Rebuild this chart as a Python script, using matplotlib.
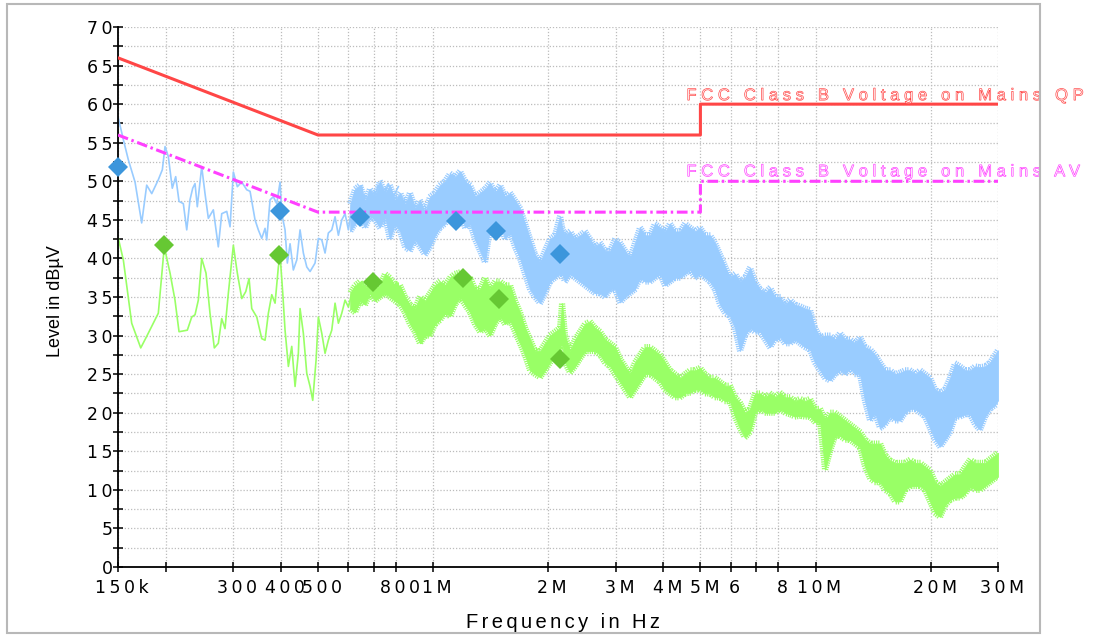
import matplotlib
matplotlib.use("Agg")
import matplotlib.pyplot as plt
from matplotlib import patheffects
from matplotlib.patches import Rectangle
from matplotlib.ticker import FixedLocator, FixedFormatter, NullLocator
import matplotlib.transforms as mtransforms

plt.rcParams["font.family"] = ["Liberation Sans", "DejaVu Sans"]

# ---- data (frequencies in MHz, levels in dBuV) -----------------------------
# FCC class B limits
qp_lim_f = [0.15, 0.5, 5.0, 5.0, 30.0]
qp_lim_db = [66, 56, 56, 60, 60]
av_lim_f = [0.15, 0.5, 5.0, 5.0, 30.0]
av_lim_db = [56, 46, 46, 50, 50]

# peak trace, low-frequency part (thin line)
pk_f = [0.1503, 0.1549, 0.1596, 0.1662, 0.1730, 0.1783, 0.1838, 0.1912, 0.1959,
        0.1991, 0.2031, 0.2080, 0.2123, 0.2166, 0.2223, 0.2269, 0.2314, 0.2352,
        0.2385, 0.2418, 0.2483, 0.2533, 0.2584, 0.2663, 0.2744, 0.2801, 0.2887,
        0.2945, 0.3004, 0.3077, 0.3160, 0.3256, 0.3322, 0.3423, 0.3492, 0.3564,
        0.3636, 0.3673, 0.3747, 0.3822, 0.3901, 0.3980, 0.4020, 0.4101, 0.4158,
        0.4227, 0.4311, 0.4401, 0.4489, 0.4579, 0.4674, 0.4768, 0.4913, 0.5012,
        0.5116, 0.5218, 0.5323, 0.5433, 0.5542, 0.5654, 0.5771, 0.5886, 0.6005,
        0.6129, 0.6252, 0.6378, 0.6510, 0.6640, 0.6841, 0.6978, 0.7191, 0.7411,
        0.7637, 0.7871, 0.8111]
pk_db = [58.2, 55.4, 52.8, 49.9, 44.6, 49.5, 48.4, 50.2, 51.5,
         54.5, 53.2, 49.1, 50.6, 47.4, 47.1, 43.7, 47.6, 49.1,
         49.7, 46.7, 51.9, 48.4, 45.2, 46.3, 41.5, 45.8, 46.1,
         44.1, 51.2, 49.3, 49.9, 48.9, 48.7, 45.0, 43.7, 42.6,
         43.9, 42.4, 47.6, 48.0, 47.1, 49.9, 45.8, 43.7, 39.4,
         41.9, 38.5, 39.8, 43.7, 40.7, 38.9, 38.3, 39.4, 42.6,
         42.4, 40.7, 43.3, 43.7, 45.4, 43.0, 45.0, 45.8, 43.7,
         46.7, 48.7, 46.7, 49.3, 45.8, 48.9, 47.6, 49.5, 48.0,
         49.7, 48.0, 49.3]

# average trace, low-frequency part (thin line)
avg_f = [0.1503, 0.1549, 0.1629, 0.1720, 0.1783, 0.1912, 0.1982, 0.2052, 0.2114,
         0.2166, 0.2277, 0.2338, 0.2385, 0.2433, 0.2483, 0.2548, 0.2610, 0.2679,
         0.2744, 0.2801, 0.2857, 0.2915, 0.3004, 0.3077, 0.3160, 0.3237, 0.3302,
         0.3356, 0.3459, 0.3564, 0.3636, 0.3709, 0.3786, 0.3862, 0.3939, 0.3980,
         0.4045, 0.4101, 0.4184, 0.4270, 0.4356, 0.4443, 0.4489, 0.4579, 0.4674,
         0.4768, 0.4845, 0.4943, 0.5012, 0.5116, 0.5218, 0.5323, 0.5433, 0.5542,
         0.5654, 0.5771, 0.5886, 0.6005, 0.6129, 0.6252, 0.6378, 0.6510, 0.6706,
         0.6911, 0.7122, 0.7340, 0.7564, 0.7795, 0.8033, 0.8279, 0.8614, 0.8878,
         0.9150, 0.9339, 0.9625]
avg_db = [42.6, 39.8, 31.6, 28.4, 29.9, 32.9, 41.5, 38.1, 34.6,
          30.5, 30.7, 32.4, 32.7, 34.6, 40.0, 38.1, 32.9, 28.4,
          29.0, 32.2, 30.9, 35.5, 41.7, 38.1, 34.8, 35.7, 37.4,
          33.5, 32.4, 29.6, 29.4, 32.9, 35.3, 34.2, 38.9, 40.4,
          35.5, 30.7, 26.0, 28.6, 23.4, 27.7, 33.5, 30.3, 25.1,
          23.4, 21.6, 26.8, 32.4, 30.3, 27.7, 29.4, 30.7, 34.2,
          31.6, 32.9, 34.6, 33.7, 35.5, 36.3, 35.0, 37.0, 35.9,
          37.2, 35.5, 36.3, 37.6, 35.5, 37.0, 34.2, 33.7, 31.2,
          32.9, 29.0, 32.0]

# dense sweep above ~600 kHz: envelope (max / min) of each trace
band_f = [0.607, 0.6252, 0.644, 0.664, 0.684, 0.7049, 0.726, 0.7487, 0.771, 0.7951,
          0.820, 0.8445, 0.870, 0.8968, 0.924, 0.9524, 0.982, 1.0115, 1.043, 1.0743,
          1.108, 1.1409, 1.176, 1.2117, 1.250, 1.2869, 1.327, 1.367, 1.409, 1.452,
          1.497, 1.5421, 1.590, 1.6377, 1.688, 1.7394, 1.793, 1.8473, 1.905, 1.9619,
          2.022, 2.0837, 2.148, 2.174, 2.213, 2.281, 2.3502, 2.423, 2.496, 2.573,
          2.6508, 2.733, 2.8153, 2.903, 2.9901, 3.083, 3.1756, 3.274, 3.3726, 3.477,
          3.5818, 3.693, 3.804, 3.922, 4.040, 4.165, 4.2906, 4.424, 4.5568, 4.698,
          4.8395, 4.990, 5.1397, 5.299, 5.4585, 5.628, 5.7972, 5.977, 6.157, 6.348,
          6.539, 6.742, 6.9446, 7.160, 7.3755, 7.604, 7.833, 8.077, 8.319, 8.578,
          8.835, 9.110, 9.3833, 9.675, 9.9654, 10.28, 10.59, 10.91, 11.248, 11.59,
          11.946, 12.31, 12.687, 13.07, 13.474, 13.89, 14.31, 14.75, 15.199, 15.66,
          16.142, 16.63, 17.143, 17.67, 18.207, 18.77, 19.336, 19.93, 20.536, 21.17,
          21.81, 22.48, 23.166, 23.88, 24.605, 25.36, 26.129, 26.93, 27.75, 28.60,
          29.473, 30.0]
pk_hi = [47.0, 49.0, 49.5, 47.5, 49.0, 48.0, 50.0, 48.5, 49.5, 47.5,
         48.5, 47.0, 48.5, 46.5, 47.5, 46.0, 48.0, 48.5, 49.5, 50.0,
         51.0, 50.5, 51.3, 50.0, 49.5, 48.0, 48.5, 49.0, 49.8, 48.5,
         49.5, 48.0, 48.5, 47.5, 46.5, 44.5, 42.5, 40.5, 39.5, 41.0,
         42.5, 43.0, 45.5, 44.0, 43.0, 43.5, 42.5, 43.0, 43.5, 42.5,
         41.5, 42.0, 41.0, 41.0, 42.5, 42.0, 41.0, 40.0, 42.0, 44.0,
         43.0, 43.0, 44.5, 44.0, 43.5, 44.5, 43.5, 43.5, 44.5, 44.0,
         43.5, 44.0, 43.0, 43.0, 42.0, 40.5, 39.0, 37.5, 38.0, 37.0,
         37.5, 38.8, 37.0, 36.0, 35.5, 36.2, 35.0, 35.0, 34.0, 34.6,
         34.0, 33.8, 33.5, 33.3, 31.0, 29.8, 30.0, 30.0, 29.5, 30.3,
         29.5, 29.5, 29.0, 29.8, 28.5, 28.2, 27.5, 26.5, 25.5, 25.5,
         25.0, 25.2, 25.5, 25.5, 25.0, 25.5, 25.0, 24.5, 23.0, 22.6,
         23.0, 24.5, 26.4, 26.0, 25.5, 25.5, 26.0, 25.9, 26.0, 26.5,
         27.5, 28.1]
pk_lo = [43.5, 44.5, 45.5, 44.0, 45.5, 45.0, 44.0, 45.5, 42.5, 44.5,
         43.5, 41.5, 41.0, 42.5, 41.5, 40.5, 41.5, 43.0, 44.0, 44.5,
         45.5, 45.0, 46.0, 44.0, 44.5, 42.5, 41.0, 39.5, 44.0, 43.0,
         44.5, 42.5, 43.5, 41.5, 40.0, 38.0, 36.0, 35.0, 34.2, 35.5,
         37.0, 37.5, 38.0, 38.0, 37.0, 38.0, 37.5, 37.0, 36.5, 36.0,
         35.5, 35.5, 35.0, 36.0, 36.0, 34.3, 35.0, 35.5, 36.0, 37.5,
         37.0, 37.0, 37.5, 38.0, 36.5, 37.0, 37.5, 37.5, 38.0, 38.5,
         37.5, 38.0, 37.5, 37.0, 36.0, 34.0, 33.0, 32.5, 31.0, 28.0,
         30.0, 31.0, 30.5, 30.5, 29.5, 28.5, 29.5, 29.8, 29.0, 29.0,
         29.5, 29.0, 28.5, 28.2, 26.5, 25.5, 24.5, 24.2, 25.0, 25.5,
         25.0, 25.8, 25.0, 25.0, 21.5, 19.0, 20.0, 18.0, 18.5, 19.5,
         19.0, 19.0, 20.0, 20.5, 20.5, 20.0, 19.5, 18.0, 16.5, 15.6,
         16.5, 17.5, 19.5, 19.5, 19.8, 19.8, 18.5, 17.8, 19.5, 20.5,
         21.0, 21.6]
avg_hi = [35.5, 36.5, 37.0, 36.0, 37.2, 36.0, 36.5, 38.0, 37.5, 36.5,
          36.5, 35.0, 34.0, 33.5, 35.0, 34.5, 35.5, 36.5, 37.0, 36.5,
          37.5, 38.0, 38.2, 37.0, 37.5, 36.0, 36.0, 37.5, 36.0, 37.0,
          37.0, 36.5, 36.5, 34.5, 33.0, 31.0, 29.5, 28.0, 28.0, 29.0,
          30.0, 30.5, 31.0, 34.2, 30.0, 28.0, 29.5, 30.5, 31.5, 31.8,
          31.0, 30.5, 29.5, 29.0, 28.5, 27.0, 26.0, 25.0, 26.5, 27.5,
          28.5, 28.5, 28.0, 27.5, 26.5, 25.5, 25.0, 24.5, 25.0, 25.5,
          25.5, 25.8, 25.0, 24.5, 24.5, 24.0, 23.5, 23.5, 22.0, 21.3,
          20.0, 20.5, 22.5, 22.5, 22.0, 22.5, 22.0, 22.6, 22.0, 22.0,
          21.5, 21.8, 21.5, 21.8, 20.5, 20.5, 19.0, 20.0, 20.0, 19.5,
          19.0, 18.5, 18.0, 17.5, 16.5, 16.0, 16.0, 16.0, 14.5, 13.8,
          13.5, 13.5, 13.5, 13.9, 13.5, 13.5, 13.0, 12.5, 11.0, 10.5,
          11.0, 11.5, 12.0, 12.0, 13.0, 13.9, 13.5, 13.5, 13.5, 14.0,
          14.5, 14.8]
avg_lo = [33.5, 33.0, 34.5, 34.0, 35.5, 34.5, 35.0, 35.5, 35.0, 34.5,
          34.0, 33.0, 31.5, 30.5, 29.0, 30.0, 30.0, 31.5, 32.0, 33.0,
          32.5, 34.0, 35.0, 34.0, 33.0, 31.5, 30.5, 31.0, 30.0, 31.5,
          32.5, 31.5, 32.0, 30.5, 29.0, 27.5, 25.5, 25.0, 24.6, 25.5,
          26.5, 27.5, 28.5, 29.0, 26.5, 25.2, 26.0, 27.0, 28.0, 28.0,
          28.0, 27.5, 26.5, 26.0, 25.0, 24.0, 23.0, 22.0, 23.0, 24.0,
          25.0, 25.0, 24.5, 24.0, 23.0, 22.5, 22.0, 22.0, 22.5, 22.6,
          23.0, 23.0, 22.5, 22.5, 22.0, 22.0, 21.5, 21.5, 19.5, 18.0,
          16.8, 17.5, 20.0, 20.5, 20.0, 20.0, 20.0, 20.5, 20.0, 19.8,
          19.5, 19.6, 19.5, 19.5, 18.8, 18.7, 12.6, 15.0, 17.0, 17.0,
          16.5, 16.5, 16.0, 15.5, 13.0, 11.5, 11.0, 11.0, 10.0, 9.6,
          8.5, 8.5, 10.0, 10.5, 10.5, 10.5, 10.0, 8.5, 7.0, 6.5,
          8.0, 8.7, 9.0, 9.0, 9.5, 10.5, 10.0, 10.0, 10.5, 11.0,
          11.5, 11.7]

# final measurements
qp_f = [0.150, 0.398, 0.644, 1.148, 1.460, 2.150]
qp_db = [51.8, 46.2, 45.4, 44.9, 43.6, 40.6]
av_f = [0.198, 0.396, 0.698, 1.195, 1.487, 2.150]
av_db = [41.7, 40.4, 36.9, 37.5, 34.7, 27.0]

x_ticks = [150e3, 200e3, 300e3, 400e3, 500e3, 600e3, 700e3, 800e3, 1e6,
           2e6, 3e6, 4e6, 5e6, 6e6, 7e6, 8e6, 10e6, 20e6, 30e6]
x_labels = ["150k", "", "300", "400", "500", "", "", "800", "1M",
            "2M", "3M", "4M", "5M", "6", "", "8", "10M", "20M", "30M"]
y_ticks = [i * 2.5 for i in range(29)]
y_labels = [str(int(v)) if v % 5 == 0 else "" for v in y_ticks]

# ---- styling ---------------------------------------------------------------
C_PK = "#99ccff"
C_AVG = "#99ff66"
C_QPM = "#3c96dc"
C_AVM = "#66c833"
C_QPL = "#ff4646"
C_AVL = "#ff40ff"


def spaced(s, sep="\u2009"):
    return sep.join(s)


def hz(values):
    return [v * 1e6 for v in values]


def fuzzy(up):
    # short perpendicular strokes along an envelope edge -> noisy look
    return [patheffects.TickedStroke(spacing=1.6, angle=90 if up else -90,
                                     length=1.1, linewidth=0.9)]


fig = plt.figure(figsize=(11.01, 6.37), dpi=100)
ax = fig.add_axes([118 / 1101, 1 - 567 / 637, 880 / 1101, 540 / 637])

# traces
ax.fill_between(hz(band_f), pk_lo, pk_hi, color=C_PK, lw=0.6, zorder=2)
ax.plot(hz(band_f), pk_hi, color=C_PK, lw=0.8, zorder=2, path_effects=fuzzy(True))
ax.plot(hz(band_f), pk_lo, color=C_PK, lw=0.8, zorder=2, path_effects=fuzzy(False))
ax.plot(hz(pk_f), pk_db, color=C_PK, lw=1.2, zorder=2)

ax.fill_between(hz(band_f), avg_lo, avg_hi, color=C_AVG, lw=0.6, zorder=2.1)
ax.plot(hz(band_f), avg_hi, color=C_AVG, lw=0.8, zorder=2.1, path_effects=fuzzy(True))
ax.plot(hz(band_f), avg_lo, color=C_AVG, lw=0.8, zorder=2.1, path_effects=fuzzy(False))
ax.plot(hz(avg_f), avg_db, color=C_AVG, lw=1.2, zorder=2.1)

# limit lines
ax.plot(hz(qp_lim_f), qp_lim_db, color=C_QPL, lw=2.2, zorder=3)
ax.plot(hz(av_lim_f), av_lim_db, color=C_AVL, lw=2.2, zorder=3,
        linestyle=(0, (3.5, 1.2, 0.8, 1.2)))

# final measurement markers
ax.plot(hz(qp_f), qp_db, "D", color=C_QPM, ms=10.5, mew=0, zorder=4, clip_on=False)
ax.plot(hz(av_f), av_db, "D", color=C_AVM, ms=10.5, mew=0, zorder=4, clip_on=False)

# limit labels (thin outlined text)
outline = lambda c: [patheffects.PathPatchEffect(edgecolor=c, facecolor="white", linewidth=0.5)]
ax.annotate(spaced("FCC Class B Voltage on Mains QP", " "), xy=(5e6, 60),
            xytext=(-14, 4), textcoords="offset pixels", fontsize=12,
            color=C_QPL, va="baseline", ha="left", zorder=5,
            path_effects=outline(C_QPL))
ax.annotate(spaced("FCC Class B Voltage on Mains AV", " "), xy=(5e6, 50),
            xytext=(-14, 5), textcoords="offset pixels", fontsize=12,
            color=C_AVL, va="baseline", ha="left", zorder=5,
            path_effects=outline(C_AVL))

# axes
ax.set_xscale("log")
ax.set_xlim(150e3, 30e6)
ax.set_ylim(0, 70)
ax.xaxis.set_major_locator(FixedLocator(x_ticks))
ax.xaxis.set_major_formatter(FixedFormatter([spaced(s) for s in x_labels]))
ax.xaxis.set_minor_locator(NullLocator())
ax.yaxis.set_major_locator(FixedLocator(y_ticks))
ax.yaxis.set_major_formatter(FixedFormatter([spaced(s) for s in y_labels]))

ax.grid(True, color="#bcbcbc", linestyle=(0, (1, 1.5)), linewidth=0.9, zorder=0)
ax.set_axisbelow(True)
for side in ("top", "right"):
    ax.spines[side].set_visible(False)
for side in ("left", "bottom"):
    ax.spines[side].set_linewidth(1.3)
ax.tick_params(direction="inout", length=7, width=1.1, labelsize=12.5,
               colors="black", labelfontfamily="DejaVu Sans")
ax.tick_params(axis="x", pad=5)
ax.tick_params(axis="y", pad=0.5)

shift = mtransforms.ScaledTranslation(4 / 100, 0, fig.dpi_scale_trans)
for lbl in ax.get_xticklabels():
    lbl.set_transform(lbl.get_transform() + shift)

fig.text(563 / 1101, 1 - 622 / 637, spaced("Frequency in Hz", "\u2006"),
         fontsize=14.5, ha="center", va="center")
fig.text(55 / 1101, 1 - 301 / 637, "Level in dBµV", fontsize=13,
         rotation=90, ha="center", va="center")

# frame around the figure
fig.add_artist(Rectangle((7 / 1101, 1 - 633 / 637), 1033 / 1101, 629 / 637,
                         transform=fig.transFigure, fill=False,
                         edgecolor="#b8b8b8", lw=1.5))

fig.savefig("out.png", dpi=100)
